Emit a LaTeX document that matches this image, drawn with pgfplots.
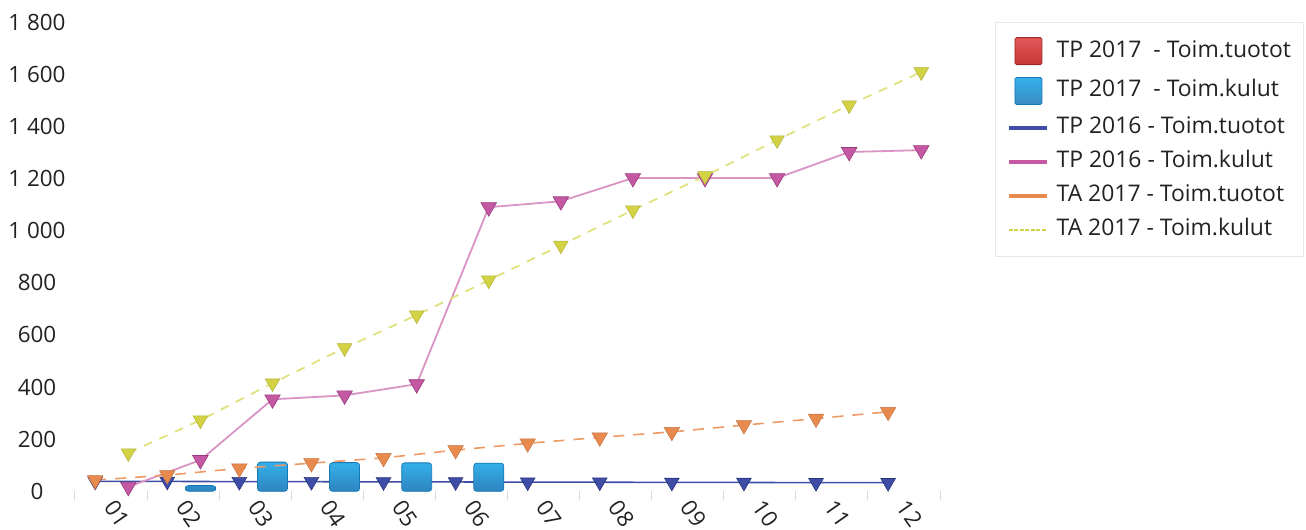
\documentclass[border=0pt]{standalone}
\usepackage{fontspec}
\setmainfont{Open Sans}
\usepackage{pgfplots}
\pgfplotsset{compat=1.18}

\definecolor{tpblue}{HTML}{3F4DA6}
\definecolor{tpbluedark}{HTML}{2A3580}
\definecolor{tppink}{HTML}{C458A2}
\definecolor{tppinkdark}{HTML}{9A3A7E}
\definecolor{tppinkline}{HTML}{D994C4}
\definecolor{taorange}{HTML}{E88A4E}
\definecolor{taorangeline}{HTML}{EE9A66}
\definecolor{tayellow}{HTML}{D2D244}
\definecolor{tayellowline}{HTML}{E0E07E}
\definecolor{barblue}{HTML}{35B0EA}
\definecolor{barbluedark}{HTML}{1677B8}
\definecolor{barred}{HTML}{DC3B3B}
\definecolor{txt}{HTML}{222222}

\begin{document}
\begin{tikzpicture}
\begin{axis}[
  scale only axis, width=865bp, height=469.1bp,
  xmin=0, xmax=12, ymin=0, ymax=1800,
  clip=false,
  axis line style={draw=none},
  xtick={0.5,1.5,...,11.5},
  xticklabels={01,02,03,04,05,06,07,08,09,10,11,12},
  minor xtick={0,1,...,12},
  major tick length=0pt,
  minor tick length=9bp,
  tick align=outside,
  xtick pos=left, ytick pos=left,
  minor tick style={draw=gray!30, line width=1bp},
  ytick={0,200,...,1800},
  /pgf/number format/assume math mode=true,
  /pgf/number format/1000 sep={\ },
  tick label style={font=\fontsize{22.5}{26}\selectfont, text=txt},
  yticklabel style={anchor=center, xshift=-38bp},
  xticklabel style={anchor=center, xshift=6bp, yshift=-22.5bp, rotate=-55},
  legend cell align=left,
  legend style={at={(1.0636,1.0004)}, anchor=north west, draw=gray!18, fill=white,
    inner xsep=12bp, inner ysep=15bp, row sep=12bp,
    /tikz/every odd column/.append style={column sep=8bp},
    font=\fontsize{23}{27}\selectfont, text=txt,
    nodes={inner sep=0pt, text height=17bp, text depth=5bp}},
]
% legend entries (drawn in the reference's order)
\addlegendimage{legend image code/.code={\path[draw=none,fill=none] (0bp,0bp) -- (38bp,0bp);
  \draw[draw=barred!70!black, top color=barred!85!white, bottom color=barred!90!black, line width=0.8bp, rounded corners=1.5bp] (6bp,-13.5bp) rectangle (33bp,13.5bp);}}
\addlegendentry{TP 2017\ \ - Toim.tuotot}
\addlegendimage{legend image code/.code={\path[draw=none,fill=none] (0bp,0bp) -- (38bp,0bp);
  \draw[draw=barbluedark, top color=barblue, bottom color=barbluedark!85, line width=0.8bp, rounded corners=1.5bp] (6bp,-13.5bp) rectangle (33bp,13.5bp);}}
\addlegendentry{TP 2017\ \ - Toim.kulut}
\addlegendimage{legend image code/.code={\draw[tpblue, line width=3.5bp] (0bp,0bp) -- (38bp,0bp);}}
\addlegendentry{TP 2016 - Toim.tuotot}
\addlegendimage{legend image code/.code={\draw[tppink, line width=3.5bp] (0bp,0bp) -- (38bp,0bp);}}
\addlegendentry{TP 2016 - Toim.kulut}
\addlegendimage{legend image code/.code={\draw[taorange, line width=3.5bp] (0bp,0bp) -- (38bp,0bp);}}
\addlegendentry{TA 2017 - Toim.tuotot}
\addlegendimage{legend image code/.code={\draw[tayellow, line width=1.8bp, dash pattern=on 4bp off 1.5bp] (0bp,0bp) -- (38bp,0bp);}}
\addlegendentry{TA 2017 - Toim.kulut}

% TP 2016 - Toim.tuotot
\addplot[forget plot, tpblue, line width=1.6bp, mark=triangle*, mark size=8.5pt,
  mark options={rotate=180, fill=tpblue, draw=tpbluedark, line width=0.6bp}]
  coordinates {(0.28,38) (1.28,38) (2.28,37) (3.28,37) (4.28,36) (5.28,36)
               (6.28,35) (7.28,35) (8.28,34) (9.28,34) (10.28,33) (11.28,33)};

% TP 2017 - Toim.kulut (bars)
\addplot[forget plot, ybar, bar width=30bp, bar shift=0pt, draw=barbluedark, line width=0.8bp,
  top color=barblue, bottom color=barbluedark!90, rounded corners=3bp]
  coordinates {(1.74,22) (2.74,112) (3.74,110) (4.74,109) (5.74,108)};

% TP 2016 - Toim.kulut
\addplot[forget plot, tppinkline, line width=1.8bp, mark=triangle*, mark size=9pt,
  mark options={rotate=180, fill=tppink, draw=tppinkdark, line width=0.6bp}]
  coordinates {(0.74,17) (1.74,120) (2.74,353) (3.74,368) (4.74,411) (5.74,1090)
               (6.74,1113) (7.74,1202) (8.74,1202) (9.74,1202) (10.74,1302) (11.74,1309)};

% TA 2017 - Toim.tuotot
\addplot[forget plot, taorangeline, line width=1.6bp, dash pattern=on 11bp off 9bp, mark=triangle*, mark size=9pt,
  mark options={solid, rotate=180, fill=taorange, draw=taorange!85!black, line width=0.5bp}]
  coordinates {(0.28,43) (1.28,62) (2.28,88) (3.28,108) (4.28,128) (5.28,158)
               (6.28,184) (7.28,207) (8.28,228) (9.28,254) (10.28,279) (11.28,305)};

% TA 2017 - Toim.kulut
\addplot[forget plot, tayellowline, line width=1.8bp, dash pattern=on 9bp off 8bp, mark=triangle*, mark size=8.5pt,
  mark options={solid, rotate=180, fill=tayellow, draw=tayellow!85!black, line width=0.5bp}]
  coordinates {(0.74,147) (1.74,273) (2.74,415) (3.74,550) (4.74,676) (5.74,810)
               (6.74,944) (7.74,1079) (8.74,1210) (9.74,1348) (10.74,1482) (11.74,1609)};
\end{axis}
\pgfresetboundingbox
\path (-75bp,-38.7bp) rectangle (1231bp,491.3bp);
\end{tikzpicture}
\end{document}
